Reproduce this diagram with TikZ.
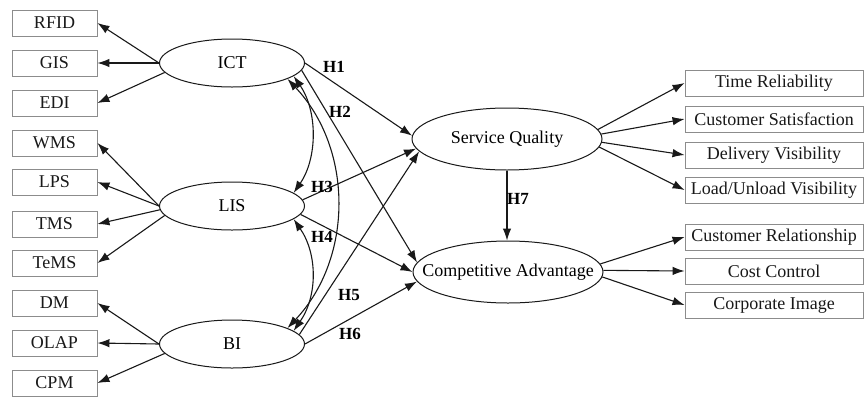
\documentclass[tikz,border=0pt]{standalone}
\usepackage{fontspec}
\setmainfont{Liberation Serif}
\usetikzlibrary{shapes.geometric,arrows.meta}
\begin{document}
\begin{tikzpicture}[x=1pt,y=-1pt,
  font=\fontsize{18}{20}\selectfont,
  ind/.style={draw=black!45,line width=0.9pt,minimum height=26pt,inner sep=0pt,text=black!90},
  lbox/.style={ind,minimum width=85pt},
  rbox/.style={ind,minimum width=178pt},
  lat/.style={ellipse,draw=black!90,line width=1pt,inner sep=0pt},
  small/.style={lat,minimum width=145pt,minimum height=48pt},
  big/.style={lat,minimum width=190pt,minimum height=62pt},
  tip/.tip={Latex[length=12pt,width=8.5pt]},
  arr/.style={draw=black!90,line width=1.1pt,-tip},
  darr/.style={draw=black!90,line width=1.1pt,tip-tip},
  hl/.style={font=\fontsize{17}{19}\selectfont\bfseries,inner sep=0pt}]
\useasboundingbox[fill=white] (0,0) rectangle (864,397);
% left indicators
\node[lbox] (rfid) at (54.5,23) {RFID};
\node[lbox] (gis) at (54.5,63) {GIS};
\node[lbox] (edi) at (54.5,103) {EDI};
\node[lbox] (wms) at (54.5,143) {WMS};
\node[lbox] (lps) at (54.5,182) {LPS};
\node[lbox] (tms) at (54.5,224) {TMS};
\node[lbox] (tems) at (54.5,263) {TeMS};
\node[lbox] (dm) at (54.5,303) {DM};
\node[lbox] (olap) at (54.5,343) {OLAP};
\node[lbox] (cpm) at (54.5,383) {CPM};
% latent
\node[small] (ict) at (232,63) {ICT};
\node[small] (lis) at (232,206) {LIS};
\node[small] (bi) at (232,344) {BI};
\node[big] (sq) at (507,139) {Service Quality};
\node[big,inner xsep=-19pt] (ca) at (508,272) {Competitive Advantage};
% right indicators
\node[rbox] (tr) at (774,83) {Time Reliability};
\node[rbox] (cs) at (774,119) {Customer Satisfaction};
\node[rbox] (dv) at (774,155) {Delivery Visibility};
\node[rbox] (lu) at (774,190) {Load/Unload Visibility};
\node[rbox] (cr) at (774,237) {Customer Relationship};
\node[rbox] (cc) at (774,271) {Cost Control};
\node[rbox] (ci) at (774,305) {Corporate Image};
% measurement arrows
\draw[arr] (ict.west) -- (rfid.east);
\draw[arr] (ict.west) -- (gis.east);
\draw[arr] (ict.188) -- (edi.east);
\draw[arr] (lis.west) -- (wms.east);
\draw[arr] (lis.west) -- (lps.east);
\draw[arr] (lis.183) -- (tms.east);
\draw[arr] (lis.188) -- (tems.east);
\draw[arr] (bi.west) -- (dm.east);
\draw[arr] (bi.west) -- (olap.east);
\draw[arr] (bi.188) -- (cpm.east);
\draw[arr] (sq.6) -- (tr.west);
\draw[arr] (sq.3) -- (cs.west);
\draw[arr] (sq.-2) -- (dv.west);
\draw[arr] (sq.-5) -- (lu.west);
\draw[arr] (ca.5) -- (cr.west);
\draw[arr] (ca.1) -- (cc.west);
\draw[arr] (ca.-3) -- (ci.west);
% correlations
\draw[darr] (ict.-12) .. controls +(24,35) and +(24,-35) .. (lis.12);
\draw[darr] (lis.-12) .. controls +(24,35) and +(24,-35) .. (bi.12);
\draw[darr] (ict.-16) .. controls +(66,70) and +(66,-70) .. (bi.16);
% structural paths
\draw[arr] (ict.east) -- (sq.178);
\draw[arr] (ict.-6) -- (ca.174);
\draw[arr] (lis.5) -- (sq.186);
\draw[arr] (lis.-7) -- (ca.180);
\draw[arr] (bi.8) -- (sq.188);
\draw[arr] (bi.east) -- (ca.186);
\draw[arr] (sq.south) -- (sq.south |- ca.north);
% labels
\node[hl] (h1) at (334,67) {H1};
\node[hl] (h2) at (340,112) {H2};
\node[hl] (h3) at (322,187) {H3};
\node[hl] (h4) at (322,237) {H4};
\node[hl] (h5) at (349,295) {H5};
\node[hl] (h6) at (350,334) {H6};
\node[hl] (h7) at (518,199) {H7};
\end{tikzpicture}
\end{document}
